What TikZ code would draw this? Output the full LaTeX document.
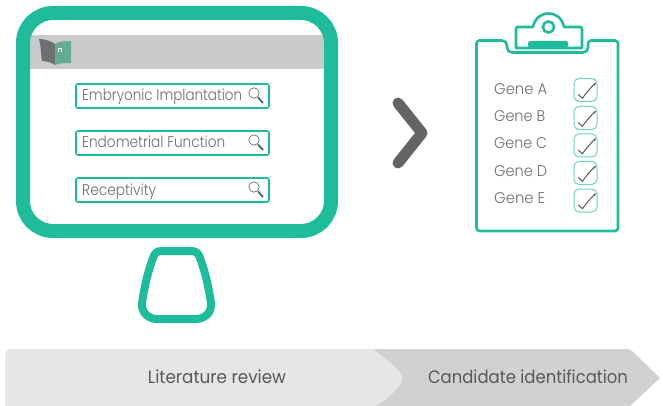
\documentclass[tikz,border=0pt]{standalone}
\usepackage{fontspec}
\usepackage{graphicx}
\setmainfont{Poppins Light}
\newfontfamily\medfont{Poppins}
\definecolor{teal1}{HTML}{1FBC9C}
\definecolor{tealpale}{HTML}{6FD3BF}
\definecolor{barg}{HTML}{C9CACB}
\definecolor{txtg}{HTML}{6D6E70}
\definecolor{darkg}{HTML}{58595B}
\definecolor{chev}{HTML}{636466}
\definecolor{lightarrow}{HTML}{E5E6E8}
\definecolor{midarrow}{HTML}{D0D1D3}
\definecolor{bookg}{HTML}{6D7072}
\definecolor{bookt}{HTML}{62AD94}
\newcommand{\fitw}[2]{\resizebox{#1pt}{\height}{#2}}
\tikzset{
  searchbox/.style={draw=teal1,line width=1.6pt,rounded corners=2pt,fill=white,minimum width=193pt,minimum height=24pt,inner sep=0pt},
  searchtext/.style={anchor=base west,inner sep=0pt,text=txtg,font=\fontsize{15.5}{17}\selectfont},
  genetext/.style={anchor=base west,inner sep=0pt,text=txtg,font=\fontsize{15.5}{17}\selectfont},
  checkbox/.style={draw=tealpale,line width=1pt,rounded corners=5pt,fill=white,minimum width=23pt,minimum height=23pt,inner sep=0pt},
  tick/.style={draw=darkg,line width=1pt,line join=round},
  bartext/.style={inner sep=0pt,text=darkg,font=\medfont\fontsize{18}{20}\selectfont},
  lens/.style={draw=txtg,line width=.7pt},
  lenshandle/.style={draw=darkg,line width=1.7pt}
}
\newcommand{\glass}[2]{%
  \draw[lens] (#1,#2) circle (5.2pt);
  \draw[lenshandle] (#1+4,#2+4.4) -- (#1+9,#2+10);
}
\newcommand{\tickmark}[1]{%
  \draw[tick] (#1.center) ++(-7.3,4.5) -- ++(4.3,3.8) .. controls +(2.5,-4.5) and +(6,-8) .. ++(11.6,-13);
}
\begin{document}
\begin{tikzpicture}[x=1pt,y=-1pt]
\useasboundingbox (0,0) rectangle (663,406);
% bottom chevrons
\fill[midarrow] (360,349) -- (625,349) [rounded corners=3pt] -- (630,349) [sharp corners] -- (660,378) -- (630,406) -- (360,406) -- cycle;
\fill[lightarrow,rounded corners=6pt] (5,406) -- (5,349) -- (372,349) [sharp corners] -- (373,349) .. controls (390,362) and (400,370) .. (403,378) .. controls (400,388) and (390,397) .. (376,406) -- cycle;
\node[bartext] (lit) at (217,377) {\fitw{138}{Literature review}};
\node[bartext] (cand) at (528,377) {\fitw{200}{Candidate identification}};
% monitor
\fill[barg] (30,35) rectangle (324,69);
\draw[teal1,line width=14pt,rounded corners=30pt] (23,13) rectangle (331,231);
% stand
\draw[teal1,line width=8pt,line join=round] (161,251) -- (192,251) .. controls (197,251) and (199,255) .. (200,258) .. controls (206,274) and (209,290) .. (211,303) .. controls (212,312) and (205,319) .. (196,319) -- (157,319) .. controls (148,319) and (141,312) .. (142,303) .. controls (144,290) and (147,274) .. (153,258) .. controls (154,255) and (156,251) .. (161,251) -- cycle;
% book
\fill[bookg] (39,39) .. controls (45,39) and (51,41) .. (55,44) -- (55,65) .. controls (51,62) and (46,61) .. (42,61) .. controls (41,55) and (41,46) .. (39,39) -- cycle;
\fill[bookt] (55,44) .. controls (60,41) and (66,41) .. (71,41) -- (71,63) .. controls (65,63) and (60,63) .. (55,65) -- cycle;
\draw[white,line width=.7pt] (58,52) -- (58,48.5) -- (61.5,48.5) -- (61.5,52);
% search boxes
\node[searchbox] (s1) at (172.5,96) {};
\node[searchbox] (s2) at (172.5,143) {};
\node[searchbox] (s3) at (172.5,190) {};
\node[searchtext] (t1) at (82,101) {\fitw{160}{Embryonic Implantation}};
\node[searchtext] (t2) at (82,148) {\fitw{143}{Endometrial Function}};
\node[searchtext] (t3) at (82,195) {\fitw{74}{Receptivity}};
\glass{254}{93}
\glass{254}{140}
\glass{254}{187}
% chevron
\draw[chev,line width=11pt,line cap=round,line join=round] (398,103) -- (422,133) -- (398,163);
% clipboard
\draw[teal1,line width=2.6pt,line join=round,rounded corners=3pt] (507,40.5) -- (476.5,40.5) -- (476.5,231) -- (618,231) -- (618,40.5) -- (588,40.5) [rounded corners=5pt] -- (588,52.5) -- (507,52.5) -- cycle;
\draw[teal1,line width=2.6pt,line join=round] (516,48) -- (516,29) .. controls (516,27.5) and (517,27) .. (518,27) -- (533,27) .. controls (535,18) and (541,13.5) .. (548.5,13.5) .. controls (556,13.5) and (562,18) .. (564,27) -- (580,27) .. controls (581,27) and (582,27.5) .. (582,29) -- (582,48) -- cycle;
\draw[teal1,line width=2.6pt] (548.5,27) circle (5.6pt);
\fill[teal1,rounded corners=1.5pt] (528,47.5) -- (528,41) -- (568,41) -- (568,47.5) -- cycle;
% gene rows
\node[genetext] (ga) at (494,95) {\fitw{53}{Gene A}};
\node[genetext] (gb) at (494,122) {\fitw{51}{Gene B}};
\node[genetext] (gc) at (494,149) {\fitw{53}{Gene C}};
\node[genetext] (gd) at (494,177) {\fitw{53}{Gene D}};
\node[genetext] (ge) at (494,203) {\fitw{51}{Gene E}};
\node[checkbox] (c1) at (585.5,90) {};
\node[checkbox] (c2) at (585.5,118) {};
\node[checkbox] (c3) at (585.5,145.5) {};
\node[checkbox] (c4) at (585.5,173) {};
\node[checkbox] (c5) at (585.5,200.5) {};
\foreach \n in {c1,c2,c3,c4,c5}{\tickmark{\n}}
\end{tikzpicture}
\end{document}
